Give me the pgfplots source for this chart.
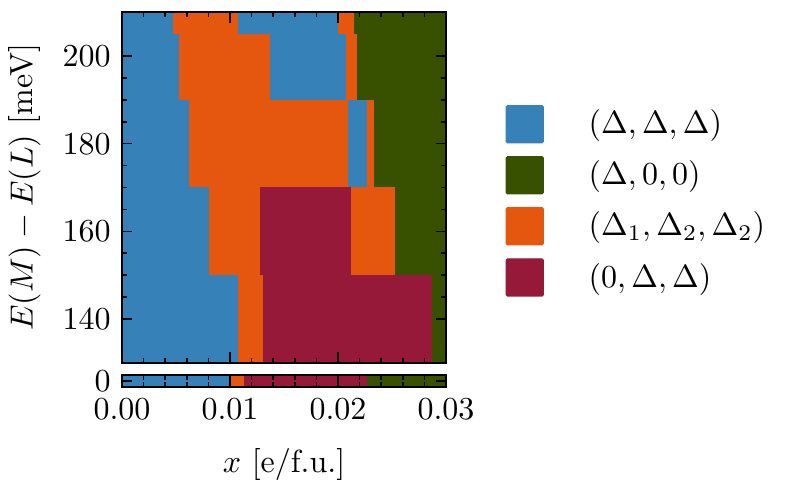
\documentclass[border=0pt]{standalone}
\usepackage{pgfplots}
\pgfplotsset{compat=1.18}
\definecolor{cblue}{HTML}{3681B8}
\definecolor{cgreen}{HTML}{375100}
\definecolor{corange}{HTML}{E5560F}
\definecolor{ccrimson}{HTML}{97193A}
% one filled rectangle: colour, x0, x1, y0, y1
\newcommand{\cell}[5]{\addplot[draw=none, fill=#1, forget plot] coordinates {(#2,#4) (#3,#4) (#3,#5) (#2,#5)} -- cycle;}
\newcommand{\sq}[1]{\addlegendimage{legend image code/.code={\fill[#1, rounded corners=0.4pt] (0pt,-5.78pt) rectangle (11.56pt,5.78pt);}}}
\pgfplotsset{
  phase/.style={scale only axis, width=101.25pt, anchor=south west, axis on top,
    xmin=0, xmax=0.03, xtick={0,0.01,0.02,0.03}, minor x tick num=4,
    major tick length=3.2pt, minor tick length=1.6pt,
    every tick/.style={black, line width=0.45pt}, axis line style={line width=0.6pt},
    scaled x ticks=false},
}
\begin{document}
\begin{tikzpicture}
\path[use as bounding box] (0,0) rectangle (249.06pt,152.81pt);
\begin{axis}[phase, at={(38.125pt,39.47pt)}, height=109.5pt,
  ymin=130, ymax=210, ytick={140,160,180,200}, minor y tick num=3, xticklabels={},
  ylabel={$E(M)-E(L)$ [meV]},
  legend style={at={(1.182,0.462)}, anchor=west, draw=none, fill=none, inner sep=0pt,
    nodes={inner sep=0pt}, row sep=4.0pt, legend cell align=left,
    /tikz/every odd column/.append style={column sep=14pt}}]
% 205-210
\cell{cblue}{0}{0.0047}{205}{210}
\cell{corange}{0.0047}{0.0107}{205}{210}
\cell{cblue}{0.0107}{0.0200}{205}{210}
\cell{corange}{0.0200}{0.0215}{205}{210}
\cell{cgreen}{0.0215}{0.03}{205}{210}
% 190-205
\cell{cblue}{0}{0.0053}{190}{205}
\cell{corange}{0.0053}{0.0137}{190}{205}
\cell{cblue}{0.0137}{0.0207}{190}{205}
\cell{corange}{0.0207}{0.0218}{190}{205}
\cell{cgreen}{0.0218}{0.03}{190}{205}
% 170-190
\cell{cblue}{0}{0.0062}{170}{190}
\cell{corange}{0.0062}{0.0209}{170}{190}
\cell{cblue}{0.0209}{0.0227}{170}{190}
\cell{corange}{0.0227}{0.0233}{170}{190}
\cell{cgreen}{0.0233}{0.03}{170}{190}
% 150-170
\cell{cblue}{0}{0.0081}{150}{170}
\cell{corange}{0.0081}{0.0128}{150}{170}
\cell{ccrimson}{0.0128}{0.0212}{150}{170}
\cell{corange}{0.0212}{0.0253}{150}{170}
\cell{cgreen}{0.0253}{0.03}{150}{170}
% 130-150
\cell{cblue}{0}{0.0107}{130}{150}
\cell{corange}{0.0107}{0.0131}{130}{150}
\cell{ccrimson}{0.0131}{0.0287}{130}{150}
\cell{cgreen}{0.0287}{0.03}{130}{150}
\sq{cblue}\addlegendentry{$(\Delta,\Delta,\Delta)$}
\sq{cgreen}\addlegendentry{$(\Delta,0,0)$}
\sq{corange}\addlegendentry{$(\Delta_1,\Delta_2,\Delta_2)$}
\sq{ccrimson}\addlegendentry{$(0,\Delta,\Delta)$}
\end{axis}
\begin{axis}[phase, at={(38.125pt,31.78pt)}, height=3.84pt,
  ymin=-0.5, ymax=0.5, ytick={0}, minor y tick num=0,
  xticklabel style={/pgf/number format/.cd, fixed, fixed zerofill, precision=2},
  xlabel={$x$ [e/f.u.]}, xlabel style={yshift=-2.2pt}]
\cell{cblue}{0}{0.0101}{-0.5}{0.5}
\cell{corange}{0.0101}{0.0113}{-0.5}{0.5}
\cell{ccrimson}{0.0113}{0.0227}{-0.5}{0.5}
\cell{cgreen}{0.0227}{0.03}{-0.5}{0.5}
\end{axis}
\end{tikzpicture}
\end{document}
